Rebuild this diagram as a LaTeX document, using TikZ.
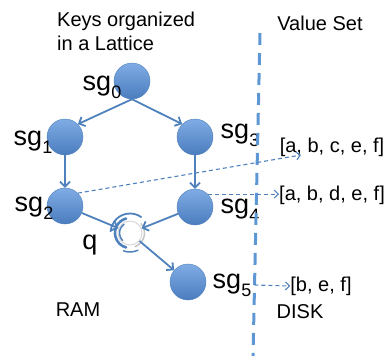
\documentclass[tikz,border=0pt]{standalone}
\usepackage{fontspec}
\setmainfont{Liberation Sans}
\usetikzlibrary{arrows.meta}
\definecolor{latblue}{RGB}{79,129,189}
\definecolor{lattop}{RGB}{128,172,228}
\definecolor{latbot}{RGB}{74,124,190}
\definecolor{divblue}{RGB}{93,152,212}
\newcommand{\sgname}[1]{sg\raisebox{-0.3em}{\fontsize{18}{19}\selectfont #1}}

\begin{document}
\begin{tikzpicture}[x=1pt,y=-1pt,
  keynode/.style={circle,minimum size=36pt,inner sep=0pt,draw=latblue,line width=0.4pt,top color=lattop,bottom color=latbot},
  keylabel/.style={inner sep=0pt,font=\fontsize{27}{28}\selectfont},
  plain/.style={inner sep=0pt,font=\fontsize{20}{24}\selectfont},
  edge/.style={draw=latblue,line width=1.8pt,-{Straight Barb[length=5pt,width=10pt]}},
  valedge/.style={draw=latblue,line width=1.1pt,dash pattern=on 4pt off 3pt,-{Straight Barb[length=4pt,width=8pt]}}]
  \useasboundingbox (0,0) rectangle (388,356);

  % lattice of keys
  \node[keynode] (sg0) at (132,81) {};
  \node[keynode] (sg1) at (65,137) {};
  \node[keynode] (sg3) at (195,137) {};
  \node[keynode] (sg2) at (65,206) {};
  \node[keynode] (sg4) at (195,207) {};
  \node[keynode] (sg5) at (188,282) {};
  \node[keylabel] (lab0) at (102,87) {\sgname{0}};
  \node[keylabel] (lab1) at (33,142) {\sgname{1}};
  \node[keylabel] (lab3) at (240,135) {\sgname{3}};
  \node[keylabel] (lab2) at (34,208) {\sgname{2}};
  \node[keylabel] (lab4) at (240,210) {\sgname{4}};
  \node[keylabel] (lab5) at (232,285) {\sgname{5}};

  % query icon
  \node[circle,minimum size=24pt,inner sep=0pt,fill=white,draw=gray!30,line width=1pt] (q) at (130,233) {};
  \begin{scope}[shift={(q.center)},y=1pt,line cap=round]
    \draw[latblue,line width=2.6pt] (105:15) arc (105:255:15);
    \draw[latblue,line width=1.8pt] (55:19.5) arc (55:175:19.5);
    \draw[latblue,line width=1.5pt] (125:10.5) arc (125:225:10.5);
    \draw[latblue,line width=1.5pt] (250:19) arc (250:295:19);
    \draw[gray!45,line width=1.5pt] (-70:14.5) arc (-70:40:14.5);
  \end{scope}
  \node[keylabel] (qlab) at (90,245) {q};

  \draw[edge] (sg0.south) -- (sg1.north east);
  \draw[edge] (sg0.south) -- (sg3.north west);
  \draw[edge] (sg1) -- (sg2);
  \draw[edge] (sg3) -- (sg4);
  \draw[edge] (sg2) -- (q);
  \draw[edge] (sg4) -- (q);
  \draw[edge] (q) -- (sg5);

  % value sets on disk
  \coordinate (divtop) at (260,33);
  \coordinate (divbot) at (253,356);
  \draw[divblue,line width=3pt,dash pattern=on 12pt off 8pt] (divtop) -- (divbot);
  \node[plain,anchor=north west,align=left] (keys) at (57,12) {Keys organized\\in a Lattice};
  \node[plain] (valset) at (320,23) {Value Set};
  \node[plain] (ram) at (78,310) {RAM};
  \node[plain] (disk) at (300,312) {DISK};
  \node[plain] (abcef) at (332,147) {[a, b, c, e, f]};
  \node[plain] (abdef) at (332,195) {[a, b, d, e, f]};
  \node[plain] (bef) at (321,286) {[b, e, f]};
  \coordinate (abcefin) at (301,155);
  \draw[valedge] (sg2.north east) -- (abcefin);
  \draw[valedge] (sg4.north east) -- (sg4.north east -| abdef.west);
  \draw[valedge] (lab5.east) ++(3,0) -- (bef.west);
\end{tikzpicture}
\end{document}
